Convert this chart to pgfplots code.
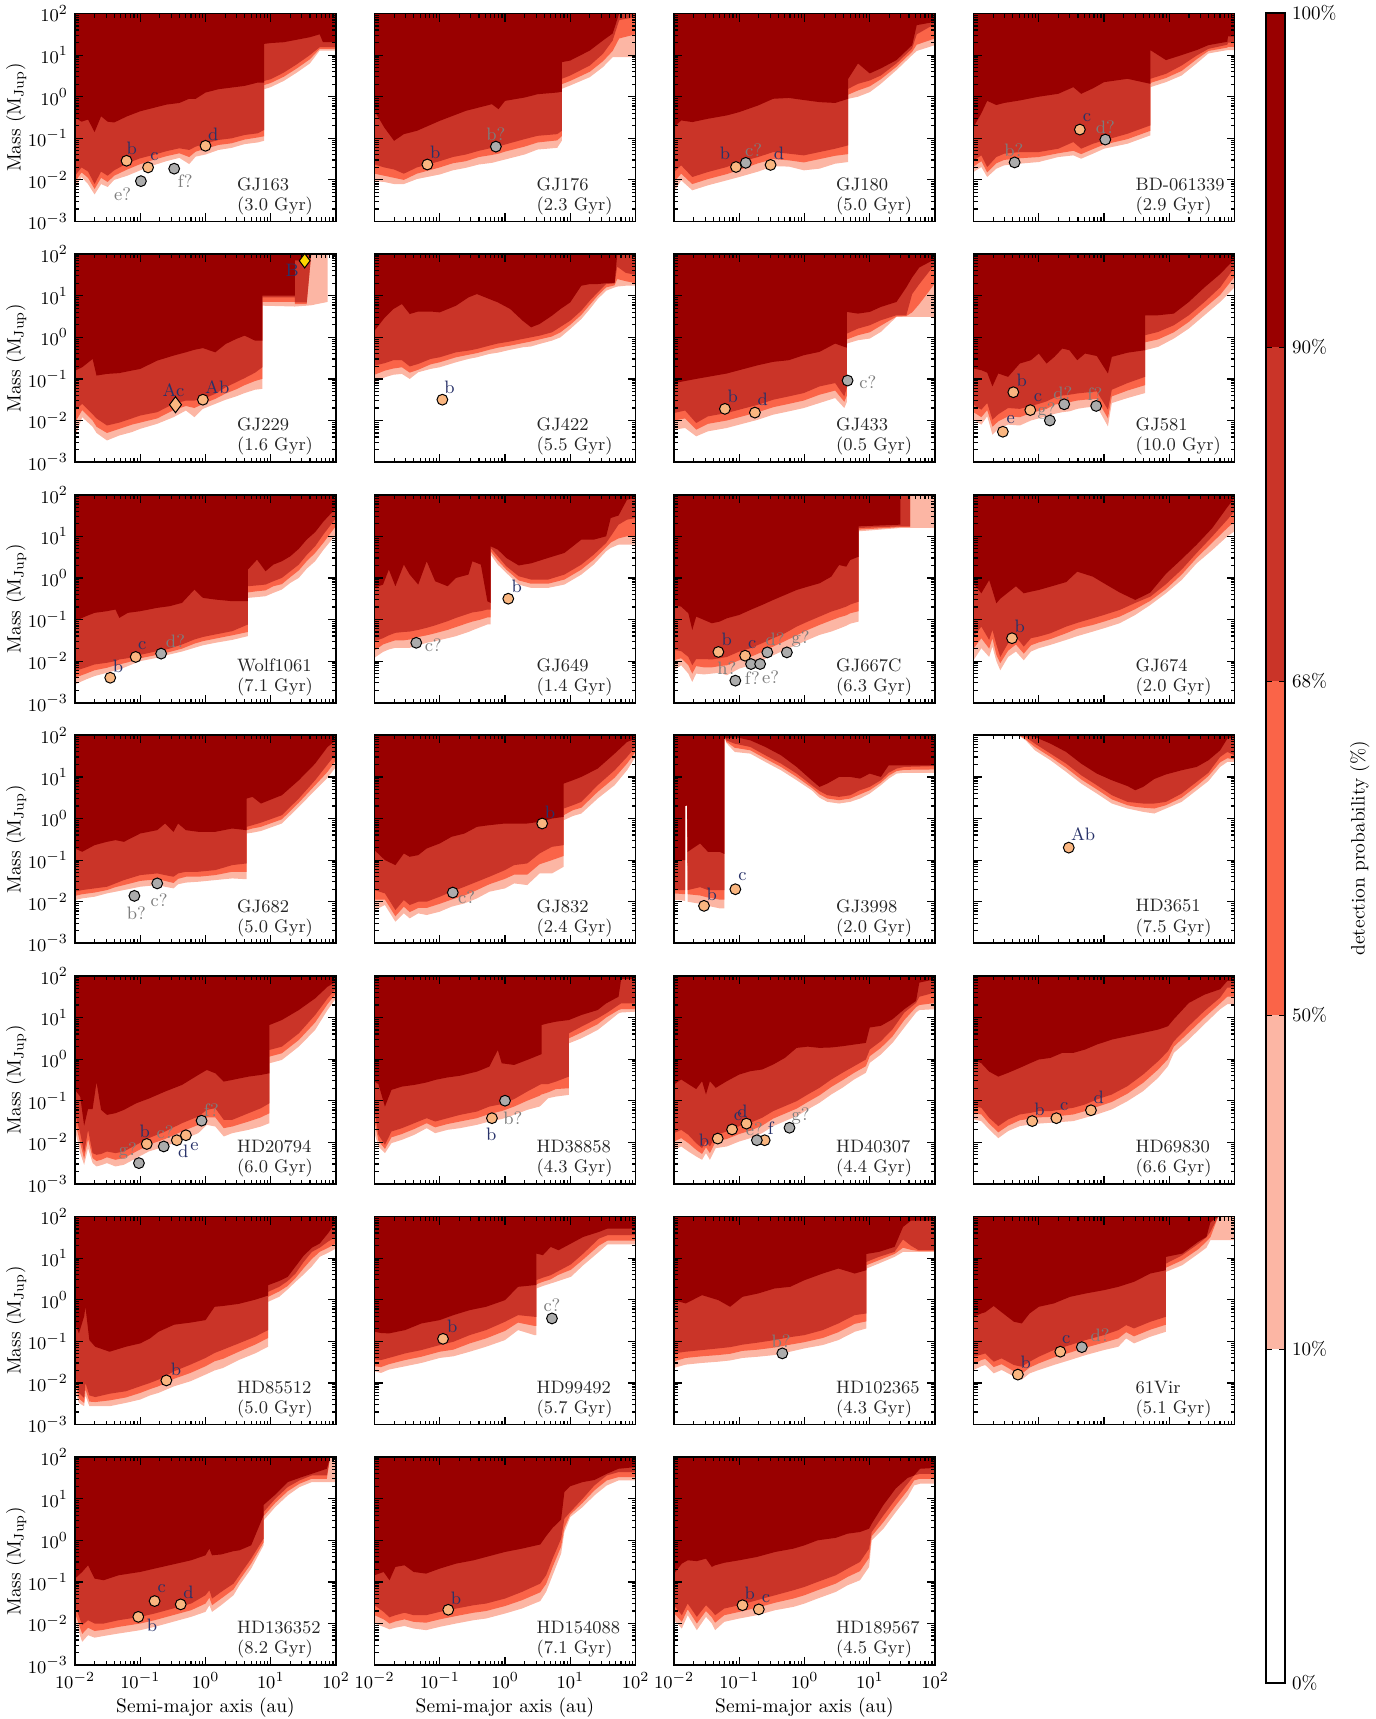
\documentclass[border=0pt]{standalone}
\usepackage{pgfplots}
\usepackage{pgfplotstable}
\pgfplotsset{compat=1.18}
\definecolor{cA}{RGB}{252,182,164}
\definecolor{cB}{RGB}{250,100,72}
\definecolor{cC}{RGB}{202,52,40}
\definecolor{cD}{RGB}{153,0,0}
\definecolor{orM}{RGB}{250,182,128}
\definecolor{grM}{RGB}{172,172,172}
\definecolor{navy}{RGB}{40,50,105}
\definecolor{gl}{RGB}{125,125,125}

% columns: x = log10(a/au); a = 90% edge; b = 68% edge; c = 50% edge; d = 10% edge (log10 M/MJup)
\pgfplotstableread{
x a b c d
-2.0 -0.50 -1.90 -2.05 -2.20
-1.9 -0.60 -1.70 -1.82 -1.93
-1.8 -0.55 -1.80 -1.95 -2.10
-1.7 -0.85 -2.10 -2.22 -2.35
-1.6 -0.47 -1.80 -1.95 -2.10
-1.5 -0.60 -1.90 -2.05 -2.17
-1.4 -0.62 -1.77 -1.90 -2.00
-1.2 -0.47 -1.60 -1.75 -1.90
-1.0 -0.35 -1.48 -1.62 -1.77
-0.8 -0.27 -1.40 -1.52 -1.65
-0.6 -0.19 -1.31 -1.43 -1.55
-0.4 -0.15 -1.24 -1.36 -1.47
-0.25 -0.05 -1.28 -1.45 -1.62
-0.15 -0.05 -1.20 -1.32 -1.44
0.0 0.10 -1.12 -1.25 -1.39
0.2 0.18 -1.04 -1.16 -1.28
0.4 0.22 -1.00 -1.12 -1.23
0.6 0.26 -0.92 -1.03 -1.14
0.8 0.34 -0.88 -0.98 -1.10
0.9 0.34 -0.80 -0.95 -1.06
0.9 1.27 0.38 0.28 0.18
1.0 1.29 0.42 0.33 0.23
1.2 1.31 0.58 0.48 0.38
1.4 1.37 0.78 0.68 0.58
1.6 1.43 1.00 0.90 0.80
1.75 1.50 1.19 1.15 1.11
1.8 1.31 1.19 1.15 1.11
2.0 1.31 1.19 1.15 1.11
}\dA
\pgfplotstableread{
x a b c d
-2.0 -0.34 -1.63 -1.85 -2.03
-1.85 -0.74 -1.70 -1.90 -2.05
-1.7 -1.06 -1.75 -1.95 -2.10
-1.55 -0.90 -1.85 -2.00 -2.10
-1.35 -0.82 -1.70 -1.85 -1.98
-1.0 -0.58 -1.55 -1.70 -1.87
-0.8 -0.46 -1.45 -1.60 -1.77
-0.6 -0.34 -1.39 -1.55 -1.71
-0.4 -0.26 -1.30 -1.45 -1.63
-0.2 -0.18 -1.23 -1.40 -1.59
-0.1 -0.30 -1.20 -1.37 -1.55
0.0 -0.10 -1.15 -1.32 -1.51
0.3 -0.02 -1.02 -1.20 -1.39
0.5 0.06 -0.94 -1.10 -1.27
0.8 0.10 -0.90 -1.05 -1.23
0.87 0.12 -0.82 -0.95 -1.06
0.87 0.83 0.43 0.30 0.19
1.0 0.87 0.51 0.38 0.27
1.3 1.11 0.75 0.60 0.47
1.5 1.35 1.03 0.85 0.71
1.65 1.52 1.35 1.10 0.95
1.75 2.00 1.84 1.40 0.95
2.0 2.00 1.92 1.50 0.95
}\dB
\pgfplotstableread{
x a b c d
-2.0 -0.73 -1.81 -2.05 -2.29
-1.89 -0.57 -1.65 -1.85 -2.01
-1.72 -0.61 -1.93 -2.10 -2.25
-1.48 -0.53 -1.81 -1.98 -2.13
-1.19 -0.45 -1.69 -1.86 -2.01
-1.0 -0.37 -1.57 -1.76 -1.93
-0.71 -0.21 -1.45 -1.60 -1.80
-0.48 -0.05 -1.33 -1.50 -1.67
-0.24 -0.03 -1.37 -1.53 -1.68
-0.01 -0.08 -1.41 -1.58 -1.77
0.23 -0.13 -1.33 -1.50 -1.73
0.47 -0.15 -1.25 -1.42 -1.61
0.67 -0.05 -1.17 -1.38 -1.57
0.67 0.43 0.19 0.05 -0.05
0.82 0.80 0.31 0.15 0.00
1.0 0.56 0.39 0.25 0.11
1.17 0.68 0.51 0.42 0.31
1.41 0.88 0.80 0.72 0.64
1.65 1.24 1.16 1.08 1.00
1.72 1.72 1.50 1.25 1.10
2.0 1.80 1.75 1.40 1.24
}\dC
\pgfplotstableread{
x a b c d
-2.0 -0.73 -1.53 -1.68 -1.81
-1.88 -0.40 -1.41 -1.55 -1.69
-1.79 -0.10 -1.69 -1.82 -1.93
-1.65 -0.20 -1.45 -1.60 -1.73
-1.53 -0.15 -1.37 -1.52 -1.65
-1.29 -0.09 -1.33 -1.48 -1.61
-1.0 0.00 -1.33 -1.45 -1.57
-0.7 0.07 -1.25 -1.36 -1.45
-0.47 0.23 -1.09 -1.30 -1.41
-0.35 0.07 -1.25 -1.38 -1.49
-0.17 0.20 -1.13 -1.26 -1.37
0.0 0.35 -1.05 -1.15 -1.25
0.36 0.43 -0.89 -1.02 -1.13
0.71 0.31 -0.69 -0.82 -0.93
0.71 1.12 0.43 0.33 0.23
0.95 0.88 0.55 0.45 0.35
1.19 1.00 0.75 0.62 0.51
1.42 1.12 0.99 0.90 0.80
1.6 1.24 1.15 1.10 1.04
1.89 1.32 1.25 1.18 1.12
1.9 1.45 1.30 1.20 1.12
2.0 1.45 1.30 1.20 1.12
}\dD
\pgfplotstableread{
x a b c d
-2.0 -0.80 -1.76 -2.05 -2.40
-1.89 -0.72 -1.60 -1.75 -1.92
-1.73 -0.52 -1.85 -2.00 -2.15
-1.67 -0.92 -1.95 -2.15 -2.30
-1.51 -0.88 -2.12 -2.30 -2.48
-1.32 -0.86 -2.05 -2.20 -2.36
-1.13 -0.80 -1.95 -2.10 -2.28
-1.0 -0.76 -1.88 -2.05 -2.20
-0.74 -0.56 -1.80 -1.95 -2.08
-0.49 -0.44 -1.60 -1.75 -1.92
-0.3 -0.36 -1.52 -1.65 -1.76
-0.17 -0.30 -1.52 -1.70 -1.92
-0.04 -0.26 -1.48 -1.60 -1.72
0.15 -0.36 -1.36 -1.48 -1.60
0.31 -0.16 -1.20 -1.35 -1.50
0.47 -0.04 -1.08 -1.25 -1.42
0.6 0.04 -0.98 -1.15 -1.34
0.76 -0.08 -0.85 -1.05 -1.26
0.87 -0.08 -0.72 -1.00 -1.24
0.87 1.00 0.96 0.85 0.76
1.37 1.00 0.96 0.85 0.74
1.37 1.85 0.84 0.80 0.74
1.55 1.85 0.84 0.80 0.76
1.55 2.00 0.82 0.79 0.76
1.62 2.00 2.00 2.00 0.77
1.87 2.00 2.00 2.00 0.85
1.87 2.00 2.00 2.00 2.00
2.0 2.00 2.00 2.00 2.00
}\dE
\pgfplotstableread{
x a b c d
-2.0 0.16 -0.68 -0.90 -1.08
-1.84 0.48 -0.62 -0.80 -0.96
-1.71 0.68 -0.55 -0.75 -0.90
-1.58 0.80 -0.55 -0.72 -0.88
-1.46 0.56 -0.70 -0.85 -1.00
-1.33 0.62 -0.64 -0.78 -0.84
-1.14 0.62 -0.52 -0.65 -0.76
-1.0 0.60 -0.48 -0.60 -0.72
-0.75 0.76 -0.36 -0.48 -0.60
-0.56 0.96 -0.32 -0.42 -0.52
-0.43 1.04 -0.28 -0.38 -0.48
-0.24 0.92 -0.20 -0.30 -0.40
-0.11 0.84 -0.15 -0.25 -0.37
0.08 0.68 -0.10 -0.20 -0.30
0.27 0.40 -0.04 -0.14 -0.24
0.4 0.24 0.00 -0.10 -0.22
0.53 0.32 0.04 -0.05 -0.16
0.72 0.52 0.12 0.02 -0.08
0.85 0.68 0.25 0.12 0.00
1.0 0.84 0.40 0.30 0.20
1.17 1.24 0.64 0.54 0.44
1.3 1.28 0.88 0.78 0.68
1.42 1.28 1.08 1.00 0.92
1.55 1.30 1.28 1.20 1.12
1.68 1.30 1.30 1.25 1.20
1.72 2.00 1.70 1.40 1.22
1.85 2.00 1.55 1.35 1.24
2.0 2.00 1.50 1.30 1.24
}\dF
\pgfplotstableread{
x a b c d
-2.0 -1.10 -1.82 -2.00 -2.22
-1.83 -1.05 -1.76 -1.95 -2.18
-1.66 -1.00 -2.06 -2.22 -2.38
-1.48 -0.95 -1.90 -2.08 -2.26
-1.19 -0.87 -1.82 -2.00 -2.18
-1.0 -0.79 -1.74 -1.92 -2.10
-0.71 -0.67 -1.62 -1.80 -1.98
-0.48 -0.59 -1.50 -1.68 -1.86
-0.24 -0.55 -1.42 -1.60 -1.78
-0.01 -0.43 -1.34 -1.52 -1.70
0.23 -0.35 -1.18 -1.38 -1.58
0.47 -0.15 -1.10 -1.28 -1.46
0.61 -0.23 -1.42 -1.55 -1.70
0.65 -0.25 -1.20 -1.40 -1.55
0.65 0.61 0.09 -0.05 -0.15
0.82 0.57 0.21 0.05 -0.07
1.0 0.61 0.29 0.12 -0.03
1.17 0.73 0.41 0.28 0.13
1.41 0.85 0.53 0.50 0.49
1.56 1.20 0.53 0.51 0.49
1.65 1.44 1.04 0.60 0.49
1.76 1.68 1.28 0.80 0.49
2.0 1.88 1.76 1.30 0.49
}\dG
\pgfplotstableread{
x a b c d
-2.0 -0.75 -1.62 -1.80 -1.98
-1.88 -0.79 -1.74 -1.92 -2.10
-1.79 -0.85 -1.58 -1.75 -1.90
-1.71 -1.18 -1.98 -2.15 -2.34
-1.62 -0.87 -1.85 -2.02 -2.20
-1.47 -0.95 -1.70 -1.90 -2.10
-1.29 -0.63 -1.72 -1.92 -2.12
-1.12 -0.55 -1.65 -1.82 -2.00
-1.0 -0.39 -1.60 -1.77 -1.95
-0.88 -0.63 -1.54 -1.72 -1.90
-0.76 -0.47 -1.45 -1.62 -1.84
-0.64 -0.27 -1.40 -1.58 -1.80
-0.53 -0.31 -1.38 -1.56 -1.78
-0.41 -0.55 -1.35 -1.52 -1.72
-0.29 -0.39 -1.33 -1.50 -1.69
-0.11 -0.45 -1.30 -1.48 -1.66
0.06 -0.87 -1.74 -1.95 -2.14
0.12 -0.47 -1.26 -1.42 -1.58
0.36 -0.37 -1.10 -1.28 -1.46
0.63 -0.31 -0.95 -1.15 -1.34
0.63 0.53 0.05 -0.12 -0.31
0.83 0.53 0.13 -0.05 -0.23
1.07 0.57 0.29 0.12 -0.03
1.3 0.85 0.53 0.37 0.21
1.54 1.20 0.85 0.70 0.53
1.78 1.52 1.20 1.02 0.85
2.0 1.88 1.68 1.45 1.20
}\dH
\pgfplotstableread{
x a b c d
-2.0 -1.04 -2.24 -2.40 -2.56
-1.83 -0.92 -2.15 -2.30 -2.44
-1.7 -0.84 -2.08 -2.22 -2.36
-1.51 -0.80 -2.04 -2.16 -2.28
-1.38 -0.76 -2.00 -2.10 -2.22
-1.32 -0.96 -1.96 -2.08 -2.20
-1.19 -0.84 -1.93 -2.03 -2.12
-1.0 -0.80 -1.85 -1.93 -2.00
-0.74 -0.72 -1.76 -1.85 -1.92
-0.55 -0.68 -1.70 -1.78 -1.84
-0.36 -0.60 -1.60 -1.70 -1.77
-0.17 -0.28 -1.48 -1.58 -1.68
-0.04 -0.48 -1.42 -1.52 -1.62
0.15 -0.52 -1.36 -1.46 -1.56
0.41 -0.56 -1.28 -1.38 -1.49
0.65 -0.56 -1.12 -1.30 -1.40
0.65 0.20 -0.20 -0.35 -0.48
0.79 0.44 -0.18 -0.32 -0.46
0.92 0.16 -0.16 -0.30 -0.44
1.04 0.32 -0.08 -0.20 -0.36
1.17 0.40 0.00 -0.15 -0.28
1.3 0.52 0.16 0.02 -0.12
1.43 0.70 0.32 0.18 0.00
1.55 0.92 0.55 0.40 0.22
1.68 1.10 0.76 0.60 0.40
1.81 1.36 1.05 0.85 0.68
2.0 1.68 1.44 1.25 1.04
}\dI
\pgfplotstableread{
x a b c d
-2.0 -0.24 -1.52 -1.75 -1.92
-1.87 -0.16 -1.45 -1.60 -1.78
-1.78 0.20 -1.38 -1.55 -1.72
-1.68 -0.20 -1.32 -1.50 -1.68
-1.55 0.32 -1.30 -1.50 -1.68
-1.46 0.08 -1.29 -1.48 -1.68
-1.33 -0.16 -1.25 -1.42 -1.62
-1.2 0.40 -1.20 -1.38 -1.56
-1.07 -0.08 -1.14 -1.33 -1.52
-0.88 -0.20 -1.04 -1.25 -1.45
-0.75 0.00 -0.96 -1.18 -1.40
-0.56 0.08 -0.86 -1.08 -1.30
-0.5 0.40 -0.83 -1.05 -1.26
-0.37 0.32 -0.80 -1.00 -1.18
-0.27 -0.56 -0.76 -0.95 -1.12
-0.22 -0.60 -0.76 -0.95 -1.12
-0.22 0.76 0.72 0.64 0.56
-0.11 0.68 0.52 0.42 0.32
0.02 0.48 0.28 0.20 0.12
0.21 0.30 0.04 -0.06 -0.16
0.4 0.35 -0.04 -0.14 -0.24
0.66 0.48 -0.04 -0.14 -0.24
0.91 0.60 0.08 -0.04 -0.16
1.17 0.92 0.32 0.20 0.08
1.36 0.92 0.56 0.44 0.32
1.55 1.00 0.84 0.74 0.64
1.62 1.44 1.00 0.85 0.72
1.74 1.50 1.28 0.95 0.80
1.87 1.88 1.40 1.00 0.80
2.0 1.92 1.44 1.00 0.80
}\dJ
\pgfplotstableread{
x a b c d
-2.0 -0.65 -1.73 -1.98 -2.22
-1.89 -0.69 -1.76 -1.93 -2.10
-1.78 -0.85 -1.90 -2.10 -2.30
-1.72 -1.25 -2.10 -2.30 -2.50
-1.66 -0.93 -1.95 -2.12 -2.30
-1.54 -1.01 -1.95 -2.15 -2.32
-1.42 -1.09 -1.96 -2.15 -2.30
-1.3 -1.05 -1.93 -2.12 -2.28
-1.19 -0.97 -1.90 -2.10 -2.34
-1.0 -0.89 -1.77 -1.98 -2.18
-0.83 -0.77 -1.69 -1.90 -2.10
-0.65 -0.65 -1.57 -1.78 -1.98
-0.48 -0.53 -1.45 -1.65 -1.86
-0.3 -0.41 -1.33 -1.52 -1.73
-0.12 -0.29 -1.17 -1.38 -1.61
0.05 -0.21 -1.05 -1.25 -1.49
0.23 -0.13 -0.93 -1.13 -1.37
0.41 0.03 -0.81 -1.02 -1.29
0.53 0.31 -0.75 -0.95 -1.22
0.64 0.27 -0.69 -0.90 -1.15
0.7 0.43 -0.64 -0.85 -1.10
0.83 0.51 -0.57 -0.80 -1.05
0.83 1.24 1.20 1.16 1.12
1.47 1.28 1.24 1.22 1.20
1.47 2.00 1.24 1.22 1.20
1.62 2.00 1.24 1.22 1.20
1.62 2.00 2.00 2.00 1.20
2.0 2.00 2.00 2.00 1.20
}\dK
\pgfplotstableread{
x a b c d
-2.0 -0.13 -1.41 -1.70 -1.98
-1.88 -0.37 -1.17 -1.45 -1.69
-1.76 -0.05 -1.49 -1.70 -1.90
-1.71 -0.30 -1.25 -1.45 -1.65
-1.65 -0.61 -1.60 -1.85 -2.00
-1.59 -0.50 -1.90 -2.05 -2.22
-1.47 -0.35 -1.57 -1.75 -1.90
-1.35 -0.20 -1.41 -1.60 -1.77
-1.23 -0.37 -1.65 -1.82 -1.98
-1.12 -0.33 -1.45 -1.62 -1.77
-1.0 -0.29 -1.41 -1.55 -1.69
-0.82 -0.21 -1.33 -1.47 -1.61
-0.58 -0.10 -1.17 -1.33 -1.49
-0.41 0.15 -1.08 -1.22 -1.40
-0.17 0.03 -0.97 -1.13 -1.29
0.0 -0.13 -0.89 -1.05 -1.21
0.24 -0.35 -0.77 -0.93 -1.09
0.48 -0.53 -0.60 -0.75 -0.89
0.71 -0.35 -0.45 -0.55 -0.65
0.95 0.10 -0.15 -0.27 -0.37
1.19 0.45 0.20 0.08 -0.05
1.42 0.80 0.60 0.48 0.35
1.66 1.20 1.00 0.85 0.67
1.89 1.70 1.40 1.20 1.00
2.0 1.92 1.60 1.35 1.12
}\dL
\pgfplotstableread{
x a b c d
-2.0 -0.72 -1.76 -1.86 -1.96
-1.89 -0.80 -1.72 -1.82 -1.92
-1.7 -0.64 -1.68 -1.78 -1.88
-1.51 -0.56 -1.64 -1.72 -1.80
-1.38 -0.52 -1.56 -1.65 -1.76
-1.25 -0.56 -1.48 -1.60 -1.72
-1.0 -0.36 -1.36 -1.50 -1.64
-0.74 -0.28 -1.32 -1.46 -1.60
-0.62 -0.12 -1.36 -1.50 -1.64
-0.49 -0.32 -1.40 -1.55 -1.68
-0.42 -0.12 -1.32 -1.45 -1.58
-0.3 -0.28 -1.28 -1.40 -1.54
-0.11 -0.32 -1.28 -1.40 -1.52
0.15 -0.32 -1.24 -1.36 -1.48
0.41 -0.24 -1.12 -1.28 -1.44
0.63 -0.28 -1.08 -1.28 -1.46
0.63 0.48 -0.20 -0.28 -0.36
0.72 0.52 -0.16 -0.24 -0.34
0.85 0.36 -0.10 -0.20 -0.30
1.17 0.56 0.08 -0.02 -0.12
1.43 0.92 0.48 0.38 0.28
1.68 1.32 0.92 0.80 0.68
1.87 1.72 1.30 1.12 0.98
2.0 1.88 1.56 1.40 1.24
}\dM
\pgfplotstableread{
x a b c d
-2.0 -0.76 -1.72 -1.95 -2.20
-1.84 -1.00 -1.80 -1.95 -2.08
-1.68 -1.12 -2.20 -2.35 -2.48
-1.55 -0.84 -1.96 -2.12 -2.28
-1.46 -0.92 -2.08 -2.25 -2.40
-1.33 -0.88 -2.00 -2.15 -2.28
-1.2 -0.72 -2.00 -2.15 -2.32
-1.0 -0.60 -1.88 -2.05 -2.24
-0.82 -0.44 -1.76 -1.95 -2.12
-0.62 -0.36 -1.64 -1.85 -2.04
-0.43 -0.20 -1.52 -1.72 -1.92
-0.24 -0.16 -1.40 -1.58 -1.76
0.0 -0.12 -1.24 -1.45 -1.68
0.14 -0.12 -1.12 -1.35 -1.56
0.34 -0.12 -1.08 -1.35 -1.60
0.53 -0.08 -0.84 -1.10 -1.32
0.72 0.00 -0.68 -1.00 -1.32
0.9 0.04 -0.64 -0.90 -1.16
0.9 0.84 0.24 0.08 -0.04
1.04 0.92 0.32 0.20 0.06
1.17 1.00 0.40 0.26 0.12
1.42 1.20 0.80 0.64 0.48
1.68 1.56 1.16 0.98 0.80
1.87 1.84 1.48 1.32 1.16
2.0 1.92 1.72 1.60 1.48
}\dN
\pgfplotstableread{
x a b c d
-2.0 -1.00 -1.72 -1.80 -1.95
-1.83 -1.00 -1.72 -1.82 -1.98
-1.83 0.30 0.30 0.30 0.30
-1.80 0.32 0.32 0.32 0.32
-1.79 -0.80 -1.72 -1.82 -2.00
-1.6 -0.60 -1.65 -1.85 -2.05
-1.48 -0.80 -1.72 -1.90 -2.10
-1.3 -0.80 -1.72 -1.95 -2.16
-1.23 -0.85 -1.72 -1.95 -2.16
-1.23 2.00 2.00 2.00 2.00
-1.20 1.92 1.88 1.85 1.82
-1.07 1.96 1.80 1.70 1.60
-0.83 1.88 1.72 1.64 1.56
-0.6 1.72 1.52 1.44 1.36
-0.36 1.52 1.32 1.24 1.16
-0.12 1.24 1.08 1.00 0.92
0.11 0.92 0.80 0.74 0.68
0.23 0.76 0.66 0.58 0.50
0.35 0.84 0.56 0.48 0.40
0.53 1.00 0.52 0.44 0.36
0.7 1.00 0.56 0.48 0.40
0.85 0.96 0.68 0.58 0.48
1.0 1.08 0.76 0.68 0.60
1.17 1.00 0.92 0.86 0.80
1.29 1.28 1.10 1.03 0.96
1.41 1.28 1.20 1.14 1.08
1.53 1.28 1.24 1.17 1.10
2.0 1.28 1.26 1.18 1.10
}\dO
\pgfplotstableread{
x a b c d
-2.0 2.00 2.00 2.00 2.00
-1.3 2.00 2.00 2.00 1.98
-1.2 2.00 1.96 1.90 1.88
-1.06 1.96 1.80 1.72 1.64
-0.82 1.80 1.56 1.48 1.40
-0.58 1.60 1.32 1.22 1.12
-0.35 1.32 1.04 0.94 0.84
-0.11 1.08 0.80 0.70 0.60
0.12 0.92 0.56 0.46 0.36
0.36 0.78 0.40 0.32 0.24
0.48 0.68 0.38 0.28 0.20
0.6 0.76 0.36 0.26 0.16
0.77 0.95 0.36 0.24 0.12
0.95 1.06 0.40 0.32 0.24
1.19 1.16 0.60 0.50 0.40
1.42 1.24 0.88 0.78 0.68
1.6 1.40 1.10 1.02 0.90
1.78 1.64 1.48 1.35 1.24
1.89 1.92 1.60 1.45 1.36
2.0 1.95 1.52 1.42 1.36
}\dP
\pgfplotstableread{
x a b c d
-2.0 -0.74 -1.30 -1.50 -1.70
-1.92 -0.90 -1.78 -2.02 -2.26
-1.86 -1.60 -2.26 -2.40 -2.54
-1.8 -1.20 -1.70 -1.92 -2.14
-1.73 -1.20 -2.26 -2.38 -2.50
-1.67 -0.55 -2.30 -2.45 -2.58
-1.6 -1.22 -2.28 -2.42 -2.55
-1.51 -1.34 -2.22 -2.36 -2.50
-1.38 -1.30 -2.26 -2.42 -2.58
-1.25 -1.22 -2.22 -2.38 -2.54
-1.06 -1.06 -2.06 -2.22 -2.38
-0.87 -0.95 -1.90 -2.06 -2.22
-0.62 -0.78 -1.74 -1.92 -2.10
-0.36 -0.62 -1.54 -1.74 -1.94
-0.11 -0.38 -1.38 -1.58 -1.78
0.02 -0.26 -1.22 -1.40 -1.58
0.15 -0.34 -1.18 -1.40 -1.62
0.28 -0.54 -1.46 -1.66 -1.86
0.41 -0.50 -1.46 -1.62 -1.78
0.66 -0.42 -1.30 -1.50 -1.70
0.85 -0.38 -1.18 -1.40 -1.62
0.98 -0.34 -1.06 -1.30 -1.54
0.98 0.82 0.22 0.06 -0.10
1.17 0.94 0.30 0.14 -0.02
1.43 1.18 0.62 0.46 0.30
1.68 1.46 1.06 0.88 0.70
1.87 1.74 1.46 1.32 1.18
2.0 1.86 1.70 1.58 1.46
}\dQ
\pgfplotstableread{
x a b c d
-2.0 -0.54 -1.22 -1.50 -1.78
-1.94 -0.60 -1.82 -1.96 -2.10
-1.84 -1.14 -2.06 -2.16 -2.26
-1.74 -0.74 -1.74 -1.88 -2.02
-1.58 -0.66 -1.66 -1.80 -1.94
-1.39 -0.62 -1.54 -1.68 -1.82
-1.2 -0.56 -1.42 -1.54 -1.66
-1.07 -0.50 -1.50 -1.64 -1.78
-0.88 -0.44 -1.42 -1.56 -1.70
-0.69 -0.40 -1.34 -1.50 -1.66
-0.43 -0.30 -1.26 -1.42 -1.58
-0.24 -0.18 -1.14 -1.32 -1.50
-0.11 0.22 -1.10 -1.27 -1.46
-0.05 -0.10 -1.08 -1.25 -1.44
0.14 -0.14 -0.96 -1.14 -1.34
0.34 -0.02 -0.78 -1.00 -1.22
0.53 0.10 -0.62 -0.88 -1.14
0.56 0.12 -0.60 -0.85 -1.10
0.56 0.82 -0.60 -0.85 -1.10
0.66 0.86 -0.60 -0.80 -0.94
0.78 0.90 -0.54 -0.72 -0.90
0.98 0.94 -0.42 -0.70 -0.86
0.98 0.94 0.62 0.50 0.38
1.17 1.06 0.78 0.64 0.50
1.42 1.18 0.98 0.84 0.70
1.55 1.34 1.10 1.00 0.86
1.74 1.50 1.30 1.18 1.10
1.78 1.92 1.34 1.20 1.12
2.0 1.92 1.34 1.20 1.14
}\dR
\pgfplotstableread{
x a b c d
-2.0 -0.61 -1.78 -1.98 -2.18
-1.89 -0.49 -1.70 -1.90 -2.10
-1.78 -0.60 -1.82 -2.02 -2.22
-1.66 -0.72 -2.02 -2.18 -2.34
-1.57 -0.53 -2.14 -2.28 -2.42
-1.51 -0.85 -1.98 -2.12 -2.26
-1.45 -0.53 -2.10 -2.26 -2.42
-1.36 -0.69 -1.82 -1.98 -2.14
-1.19 -0.53 -1.74 -1.92 -2.10
-1.0 -0.37 -1.61 -1.80 -1.98
-0.83 -0.29 -1.53 -1.72 -1.90
-0.65 -0.25 -1.41 -1.60 -1.78
-0.48 -0.13 -1.25 -1.43 -1.61
-0.3 0.03 -1.13 -1.31 -1.49
-0.12 0.27 -1.01 -1.19 -1.37
0.05 0.30 -0.85 -1.03 -1.21
0.23 0.27 -0.69 -0.87 -1.05
0.41 0.28 -0.49 -0.67 -0.85
0.58 0.31 -0.33 -0.51 -0.69
0.76 0.35 -0.17 -0.33 -0.49
0.94 0.39 -0.01 -0.17 -0.33
1.0 0.76 0.23 0.07 -0.09
1.17 0.80 0.43 0.27 0.11
1.35 0.96 0.72 0.55 0.39
1.53 1.20 1.12 0.94 0.76
1.71 1.40 1.35 1.25 1.12
1.76 1.84 1.50 1.30 1.18
2.0 1.92 1.60 1.35 1.20
}\dS
\pgfplotstableread{
x a b c d
-2.0 -0.01 -1.13 -1.30 -1.45
-1.88 -0.10 -1.17 -1.33 -1.49
-1.76 -0.30 -1.41 -1.55 -1.69
-1.62 -0.42 -1.61 -1.76 -1.90
-1.47 -0.33 -1.45 -1.60 -1.73
-1.29 -0.21 -1.33 -1.47 -1.61
-1.12 -0.09 -1.29 -1.43 -1.57
-1.0 -0.01 -1.25 -1.40 -1.55
-0.82 0.03 -1.25 -1.39 -1.53
-0.64 0.15 -1.21 -1.36 -1.51
-0.47 0.15 -1.17 -1.33 -1.49
-0.29 0.23 -1.09 -1.25 -1.41
-0.11 0.35 -0.97 -1.15 -1.33
0.12 0.47 -0.85 -1.03 -1.21
0.36 0.55 -0.65 -0.83 -1.01
0.6 0.63 -0.37 -0.57 -0.77
0.83 0.71 -0.05 -0.25 -0.45
0.98 0.79 0.19 0.00 -0.17
1.07 0.96 0.43 0.30 0.15
1.3 1.35 0.80 0.64 0.47
1.54 1.55 1.16 1.00 0.84
1.78 1.68 1.48 1.34 1.20
1.89 1.88 1.72 1.50 1.32
2.0 1.88 1.72 1.50 1.32
}\dT
\pgfplotstableread{
x a b c d
-2.0 -0.57 -1.76 -2.00 -2.20
-1.94 -0.81 -2.24 -2.38 -2.48
-1.86 -0.40 -2.36 -2.48 -2.56
-1.84 -0.17 -2.00 -2.15 -2.30
-1.78 -0.97 -2.30 -2.45 -2.56
-1.69 -1.13 -2.34 -2.46 -2.56
-1.47 -1.25 -2.26 -2.42 -2.56
-1.22 -1.13 -2.20 -2.35 -2.48
-1.0 -1.05 -2.08 -2.24 -2.40
-0.85 -0.93 -2.00 -2.15 -2.30
-0.72 -0.77 -1.92 -2.08 -2.24
-0.48 -0.60 -1.72 -1.90 -2.08
-0.23 -0.55 -1.56 -1.76 -1.96
0.0 -0.49 -1.40 -1.60 -1.80
0.14 -0.17 -1.28 -1.48 -1.70
0.27 -0.15 -1.20 -1.42 -1.64
0.51 -0.10 -1.05 -1.25 -1.45
0.76 0.00 -0.89 -1.08 -1.29
0.96 0.10 -0.73 -0.92 -1.13
0.96 0.35 0.19 0.07 -0.05
1.13 0.45 0.31 0.20 0.07
1.26 0.55 0.45 0.33 0.25
1.38 0.80 0.63 0.52 0.43
1.5 1.05 0.90 0.75 0.60
1.63 1.25 1.15 0.98 0.80
1.75 1.35 1.25 1.15 1.03
1.88 1.60 1.40 1.25 1.13
2.0 1.86 1.51 1.35 1.23
}\dU
\pgfplotstableread{
x a b c d
-2.0 -0.77 -1.44 -1.60 -1.72
-1.9 -0.80 -1.45 -1.62 -1.76
-1.78 -0.81 -1.40 -1.55 -1.68
-1.53 -0.73 -1.29 -1.45 -1.60
-1.28 -0.57 -1.21 -1.37 -1.52
-1.0 -0.49 -1.09 -1.25 -1.40
-0.79 -0.37 -1.01 -1.20 -1.36
-0.54 -0.25 -0.85 -1.05 -1.25
-0.29 -0.17 -0.73 -0.93 -1.13
0.0 -0.01 -0.53 -0.75 -0.97
0.2 0.31 -0.37 -0.55 -0.73
0.45 0.35 -0.41 -0.63 -0.85
0.48 0.35 -0.41 -0.63 -0.85
0.48 1.11 0.47 0.37 0.27
0.58 1.07 0.53 0.43 0.33
0.7 1.27 0.59 0.49 0.39
0.82 1.19 0.69 0.60 0.45
1.01 1.35 0.85 0.72 0.55
1.2 1.51 1.11 0.97 0.83
1.44 1.63 1.47 1.30 1.15
1.57 1.71 1.55 1.42 1.33
2.0 1.71 1.55 1.42 1.33
}\dV
\pgfplotstableread{
x a b c d
-2.0 -0.01 -1.29 -1.48 -1.64
-1.82 -0.09 -1.25 -1.40 -1.56
-1.57 0.11 -1.21 -1.36 -1.52
-1.32 -0.01 -1.17 -1.33 -1.49
-1.14 -0.17 -1.14 -1.30 -1.46
-0.95 0.07 -1.08 -1.23 -1.40
-0.71 0.15 -1.03 -1.20 -1.37
-0.46 0.27 -0.97 -1.15 -1.33
-0.22 0.31 -0.90 -1.08 -1.25
0.0 0.47 -0.85 -1.02 -1.17
0.28 0.63 -0.73 -0.92 -1.09
0.52 0.75 -0.57 -0.78 -0.97
0.77 0.63 -0.37 -0.58 -0.77
0.95 0.71 -0.33 -0.52 -0.69
0.95 1.10 0.91 0.83 0.75
1.14 1.15 1.03 0.95 0.87
1.38 1.27 1.15 1.10 1.03
1.51 1.75 1.45 1.25 1.15
1.63 1.90 1.30 1.20 1.15
1.75 1.90 1.19 1.17 1.15
2.0 1.90 1.19 1.17 1.15
}\dW
\pgfplotstableread{
x a b c d
-2.0 -0.41 -1.37 -1.55 -1.69
-1.88 -0.33 -1.32 -1.45 -1.60
-1.82 -0.30 -1.29 -1.42 -1.57
-1.69 -0.15 -1.49 -1.62 -1.77
-1.57 -0.30 -1.41 -1.55 -1.69
-1.38 -0.53 -1.57 -1.72 -1.84
-1.26 -0.57 -1.61 -1.78 -1.92
-1.14 -0.33 -1.49 -1.63 -1.77
-1.0 -0.17 -1.37 -1.53 -1.69
-0.77 -0.09 -1.21 -1.39 -1.57
-0.52 0.07 -1.09 -1.27 -1.45
-0.28 0.15 -0.97 -1.15 -1.33
0.0 0.23 -0.85 -1.03 -1.21
0.22 0.31 -0.73 -0.93 -1.13
0.34 0.37 -0.61 -0.78 -0.93
0.46 0.43 -0.69 -0.88 -1.05
0.71 0.63 -0.53 -0.72 -0.89
0.95 0.71 -0.41 -0.60 -0.77
0.95 1.03 0.87 0.77 0.67
1.2 1.11 1.07 0.95 0.83
1.45 1.40 1.35 1.22 1.11
1.57 1.51 1.50 1.40 1.25
1.63 1.86 1.63 1.50 1.43
1.75 2.00 2.00 2.00 1.43
2.0 2.00 2.00 2.00 1.43
}\dX
\pgfplotstableread{
x a b c d
-2.0 -0.92 -1.56 -1.75 -1.92
-1.89 -0.76 -2.04 -2.25 -2.44
-1.8 -0.60 -1.92 -2.10 -2.28
-1.7 -0.92 -2.00 -2.18 -2.34
-1.56 -0.96 -2.00 -2.15 -2.30
-1.33 -0.84 -1.92 -2.08 -2.24
-1.0 -0.76 -1.84 -2.00 -2.16
-0.78 -0.68 -1.76 -1.92 -2.08
-0.5 -0.58 -1.64 -1.80 -1.96
-0.22 -0.48 -1.52 -1.68 -1.84
0.0 -0.36 -1.32 -1.52 -1.72
0.06 -0.20 -1.20 -1.38 -1.56
0.1 -0.36 -1.40 -1.56 -1.72
0.24 -0.34 -1.24 -1.40 -1.56
0.43 -0.26 -1.04 -1.18 -1.32
0.52 -0.24 -0.84 -0.96 -1.08
0.7 -0.12 -0.44 -0.56 -0.68
0.89 0.60 0.04 -0.05 -0.12
0.89 0.85 0.68 0.58 0.48
1.07 1.10 1.00 0.90 0.80
1.26 1.40 1.28 1.18 1.08
1.44 1.50 1.44 1.36 1.28
1.63 1.60 1.56 1.48 1.40
1.86 1.72 1.56 1.48 1.40
1.91 2.00 2.00 2.00 1.40
2.0 2.00 2.00 2.00 1.40
}\dY
\pgfplotstableread{
x a b c d
-2.0 -0.84 -1.56 -1.80 -2.00
-1.86 -0.76 -1.72 -1.90 -2.08
-1.77 -0.96 -1.85 -2.00 -2.14
-1.68 -0.64 -1.80 -1.95 -2.10
-1.54 -0.60 -1.74 -1.90 -2.06
-1.4 -0.76 -1.80 -1.96 -2.12
-1.21 -0.80 -1.80 -1.98 -2.16
-1.0 -0.68 -1.72 -1.90 -2.08
-0.75 -0.56 -1.64 -1.82 -2.00
-0.48 -0.48 -1.56 -1.74 -1.92
-0.29 -0.40 -1.52 -1.70 -1.88
0.0 -0.28 -1.40 -1.58 -1.76
0.26 -0.20 -1.24 -1.44 -1.64
0.54 -0.10 -1.04 -1.25 -1.46
0.63 0.10 -0.84 -1.05 -1.24
0.73 0.30 -0.44 -0.64 -0.84
0.86 0.50 0.04 -0.15 -0.32
0.91 1.16 0.52 0.30 0.20
1.0 1.30 0.68 0.62 0.56
1.19 1.40 1.00 0.90 0.80
1.37 1.45 1.32 1.20 1.08
1.56 1.60 1.56 1.44 1.32
1.74 1.72 1.64 1.52 1.44
2.0 1.76 1.64 1.52 1.44
}\dZ
\pgfplotstableread{
x a b c d
-2.0 -0.80 -1.56 -1.75 -1.92
-1.88 -0.56 -1.80 -1.96 -2.12
-1.79 -0.48 -1.52 -1.66 -1.80
-1.65 -0.50 -1.84 -2.00 -2.16
-1.51 -0.44 -1.56 -1.70 -1.84
-1.42 -0.64 -1.70 -1.85 -2.00
-1.37 -0.60 -1.80 -1.98 -2.16
-1.23 -0.54 -1.64 -1.80 -1.96
-1.0 -0.48 -1.56 -1.72 -1.88
-0.73 -0.40 -1.44 -1.62 -1.80
-0.45 -0.28 -1.32 -1.50 -1.68
-0.17 -0.20 -1.20 -1.40 -1.60
0.0 -0.12 -1.12 -1.32 -1.52
0.2 0.00 -1.00 -1.20 -1.40
0.48 0.06 -0.84 -1.04 -1.24
0.66 0.16 -0.68 -0.88 -1.08
0.85 0.20 -0.52 -0.74 -0.96
0.99 0.28 -0.20 -0.42 -0.64
1.03 0.40 0.20 0.10 0.00
1.21 0.85 0.60 0.44 0.28
1.4 1.25 1.00 0.84 0.68
1.58 1.50 1.36 1.20 1.04
1.68 1.56 1.56 1.44 1.32
1.77 1.72 1.60 1.48 1.36
2.0 1.74 1.60 1.48 1.36
}\dAA

\newcommand{\regions}[1]{%
\addplot[fill=cA,draw=none] table[x=x,y=d]{#1} -- (axis cs:2,2) -- (axis cs:-2,2) -- cycle;
\addplot[fill=cB,draw=none] table[x=x,y=c]{#1} -- (axis cs:2,2) -- (axis cs:-2,2) -- cycle;
\addplot[fill=cC,draw=none] table[x=x,y=b]{#1} -- (axis cs:2,2) -- (axis cs:-2,2) -- cycle;
\addplot[fill=cD,draw=none] table[x=x,y=a]{#1} -- (axis cs:2,2) -- (axis cs:-2,2) -- cycle;
}

\pgfplotsset{
  panel/.style={anchor=north west, width=130.5pt, height=104pt, scale only axis,
    xmin=-2, xmax=2, ymin=-3, ymax=2, axis on top,
    xtick={-2,-1,0,1,2}, ytick={-3,-2,-1,0,1,2},
    minor xtick={-1.69897,-1.52288,-1.39794,-1.30103,-1.22185,-1.15490,-1.09691,-1.04576,
      -0.69897,-0.52288,-0.39794,-0.30103,-0.22185,-0.15490,-0.09691,-0.04576,
      0.30103,0.47712,0.60206,0.69897,0.77815,0.84510,0.90309,0.95424,
      1.30103,1.47712,1.60206,1.69897,1.77815,1.84510,1.90309,1.95424},
    minor ytick={-2.69897,-2.52288,-2.39794,-2.30103,-2.22185,-2.15490,-2.09691,-2.04576,
      -1.69897,-1.52288,-1.39794,-1.30103,-1.22185,-1.15490,-1.09691,-1.04576,
      -0.69897,-0.52288,-0.39794,-0.30103,-0.22185,-0.15490,-0.09691,-0.04576,
      0.30103,0.47712,0.60206,0.69897,0.77815,0.84510,0.90309,0.95424,
      1.30103,1.47712,1.60206,1.69897,1.77815,1.84510,1.90309,1.95424},
    tick align=inside, major tick length=4pt, minor tick length=2pt,
    every tick/.style={black, line width=0.6pt},
    axis line style={line width=0.9pt},
    xticklabels={}, yticklabels={},
    tick label style={font=\fontsize{9.5}{11}\selectfont},
    label style={font=\fontsize{9.7}{11}\selectfont}},
  xlab/.style={xticklabels={$10^{-2}$,$10^{-1}$,$10^{0}$,$10^{1}$,$10^{2}$}, xlabel={Semi-major axis (au)}, xlabel shift=-2.5pt},
  ylab/.style={yticklabels={$10^{-3}$,$10^{-2}$,$10^{-1}$,$10^{0}$,$10^{1}$,$10^{2}$}, ylabel={Mass (M$_{\mathrm{Jup}}$)}, ylabel shift=-6pt},
  om/.style={only marks, mark=*, mark size=2.7pt, mark options={fill=orM, draw=black, line width=0.5pt}},
  gm/.style={only marks, mark=*, mark size=2.7pt, mark options={fill=grM, draw=black, line width=0.5pt}},
}
\tikzset{
  lN/.style={text=navy, font=\fontsize{9}{10}\selectfont, inner sep=0pt},
  lG/.style={text=gl, font=\fontsize{9}{10}\selectfont, inner sep=0pt},
  nm/.style={anchor=west, font=\fontsize{9}{10}\selectfont, inner sep=0pt, text=black!85},
}
\newcommand{\names}[2]{\node[nm] at (axis cs:0.48,-2.1) {#1};\node[nm] at (axis cs:0.48,-2.62) {(#2 Gyr)};}

\begin{document}
\begin{tikzpicture}
\useasboundingbox (0,0) rectangle (688pt,-859.5pt);
% ---------------- row 1
\begin{axis}[panel, ylab, at={(37.5pt,-6.75pt)}]
\regions{\dA}
\addplot[om] coordinates {(-1.21,-1.54) (-0.88,-1.70) (0.00,-1.18)};
\addplot[gm] coordinates {(-0.99,-2.03) (-0.48,-1.73)};
\node[lN] at (axis cs:-1.13,-1.24) {b};
\node[lN] at (axis cs:-0.78,-1.43) {c};
\node[lN] at (axis cs:0.12,-0.90) {d};
\node[lG] at (axis cs:-1.27,-2.35) {e?};
\node[lG] at (axis cs:-0.31,-2.04) {f?};
\names{GJ163}{3.0}
\end{axis}
\begin{axis}[panel, at={(187.25pt,-6.75pt)}]
\regions{\dB}
\addplot[om] coordinates {(-1.19,-1.63)};
\addplot[gm] coordinates {(-0.14,-1.20)};
\node[lN] at (axis cs:-1.07,-1.34) {b};
\node[lG] at (axis cs:-0.14,-0.90) {b?};
\names{GJ176}{2.3}
\end{axis}
\begin{axis}[panel, at={(337pt,-6.75pt)}]
\regions{\dC}
\addplot[om] coordinates {(-1.05,-1.69) (-0.52,-1.64)};
\addplot[gm] coordinates {(-0.90,-1.59)};
\node[lN] at (axis cs:-1.22,-1.37) {b};
\node[lG] at (axis cs:-0.78,-1.29) {c?};
\node[lN] at (axis cs:-0.39,-1.35) {d};
\names{GJ180}{5.0}
\end{axis}
\begin{axis}[panel, at={(486.75pt,-6.75pt)}]
\regions{\dD}
\addplot[om] coordinates {(-0.37,-0.79)};
\addplot[gm] coordinates {(-1.37,-1.58) (0.02,-1.03)};
\node[lG] at (axis cs:-1.38,-1.29) {b?};
\node[lN] at (axis cs:-0.26,-0.49) {c};
\node[lG] at (axis cs:0.02,-0.73) {d?};
\names{BD-061339}{2.9}
\end{axis}
% ---------------- row 2
\begin{axis}[panel, ylab, at={(37.5pt,-127.05pt)}]
\regions{\dE}
\addplot[only marks, mark=diamond*, mark size=4pt, mark options={fill=orM, draw=black, line width=0.5pt}] coordinates {(-0.46,-1.62)};
\addplot[om] coordinates {(-0.04,-1.50)};
\addplot[only marks, mark=diamond*, mark size=3.6pt, mark options={fill={rgb,255:red,255;green,215;blue,0}, draw=black, line width=0.5pt}] coordinates {(1.52,1.84)};
\node[lN] at (axis cs:-0.49,-1.28) {Ac};
\node[lN] at (axis cs:0.18,-1.20) {Ab};
\node[lN] at (axis cs:1.33,1.62) {B};
\names{GJ229}{1.6}
\end{axis}
\begin{axis}[panel, at={(187.25pt,-127.05pt)}]
\regions{\dF}
\addplot[om] coordinates {(-0.96,-1.50)};
\node[lN] at (axis cs:-0.85,-1.20) {b};
\names{GJ422}{5.5}
\end{axis}
\begin{axis}[panel, at={(337pt,-127.05pt)}]
\regions{\dG}
\addplot[om] coordinates {(-1.22,-1.72) (-0.76,-1.81)};
\addplot[gm] coordinates {(0.66,-1.04)};
\node[lN] at (axis cs:-1.10,-1.42) {b};
\node[lN] at (axis cs:-0.64,-1.50) {d};
\node[lG] at (axis cs:0.97,-1.07) {c?};
\names{GJ433}{0.5}
\end{axis}
\begin{axis}[panel, at={(486.75pt,-127.05pt)}]
\regions{\dH}
\addplot[om] coordinates {(-1.39,-1.32) (-1.13,-1.75) (-1.55,-2.27)};
\addplot[gm] coordinates {(-0.83,-2.00) (-0.61,-1.61) (-0.12,-1.65)};
\node[lN] at (axis cs:-1.26,-1.03) {b};
\node[lN] at (axis cs:-1.01,-1.46) {c};
\node[lN] at (axis cs:-1.43,-1.98) {e};
\node[lG] at (axis cs:-0.88,-1.78) {g?};
\node[lG] at (axis cs:-0.63,-1.34) {d?};
\node[lG] at (axis cs:-0.14,-1.37) {f?};
\names{GJ581}{10.0}
\end{axis}
% ---------------- row 3
\begin{axis}[panel, ylab, at={(37.5pt,-247.35pt)}]
\regions{\dI}
\addplot[om] coordinates {(-1.46,-2.40) (-1.07,-1.90)};
\addplot[gm] coordinates {(-0.68,-1.82)};
\node[lN] at (axis cs:-1.34,-2.12) {b};
\node[lN] at (axis cs:-0.97,-1.62) {c};
\node[lG] at (axis cs:-0.46,-1.52) {d?};
\names{Wolf1061}{7.1}
\end{axis}
\begin{axis}[panel, at={(187.25pt,-247.35pt)}]
\regions{\dJ}
\addplot[om] coordinates {(0.05,-0.50)};
\addplot[gm] coordinates {(-1.36,-1.56)};
\node[lN] at (axis cs:0.18,-0.20) {b};
\node[lG] at (axis cs:-1.10,-1.62) {c?};
\names{GJ649}{1.4}
\end{axis}
\begin{axis}[panel, at={(337pt,-247.35pt)}]
\regions{\dK}
\addplot[om] coordinates {(-1.32,-1.78) (-0.91,-1.87)};
\addplot[gm] coordinates {(-1.06,-2.47) (-0.82,-2.07) (-0.68,-2.07) (-0.57,-1.79) (-0.27,-1.79)};
\node[lN] at (axis cs:-1.19,-1.47) {b};
\node[lN] at (axis cs:-0.80,-1.60) {c};
\node[lG] at (axis cs:-1.19,-2.18) {h?};
\node[lG] at (axis cs:-0.80,-2.40) {f?};
\node[lG] at (axis cs:-0.52,-2.40) {e?};
\node[lG] at (axis cs:-0.45,-1.47) {d?};
\node[lG] at (axis cs:-0.06,-1.47) {g?};
\names{GJ667C}{6.3}
\end{axis}
\begin{axis}[panel, at={(486.75pt,-247.35pt)}]
\regions{\dL}
\addplot[om] coordinates {(-1.41,-1.45)};
\node[lN] at (axis cs:-1.29,-1.16) {b};
\names{GJ674}{2.0}
\end{axis}
% ---------------- row 4
\begin{axis}[panel, ylab, at={(37.5pt,-367.65pt)}]
\regions{\dM}
\addplot[gm] coordinates {(-1.09,-1.86) (-0.74,-1.56)};
\node[lG] at (axis cs:-1.06,-2.28) {b?};
\node[lG] at (axis cs:-0.71,-1.96) {c?};
\names{GJ682}{5.0}
\end{axis}
\begin{axis}[panel, at={(187.25pt,-367.65pt)}]
\regions{\dN}
\addplot[om] coordinates {(0.57,-0.12)};
\addplot[gm] coordinates {(-0.80,-1.78)};
\node[lN] at (axis cs:0.69,0.16) {b};
\node[lG] at (axis cs:-0.59,-1.90) {c?};
\names{GJ832}{2.4}
\end{axis}
\begin{axis}[panel, at={(337pt,-367.65pt)}]
\regions{\dO}
\addplot[om] coordinates {(-1.54,-2.10) (-1.06,-1.70)};
\node[lN] at (axis cs:-1.42,-1.82) {b};
\node[lN] at (axis cs:-0.95,-1.40) {c};
\names{GJ3998}{2.0}
\end{axis}
\begin{axis}[panel, at={(486.75pt,-367.65pt)}]
\regions{\dP}
\addplot[om] coordinates {(-0.54,-0.70)};
\node[lN] at (axis cs:-0.32,-0.38) {Ab};
\names{HD3651}{7.5}
\end{axis}
% ---------------- row 5
\begin{axis}[panel, ylab, at={(37.5pt,-487.95pt)}]
\regions{\dQ}
\addplot[om] coordinates {(-0.90,-2.04) (-0.44,-1.95) (-0.30,-1.83)};
\addplot[gm] coordinates {(-1.02,-2.50) (-0.64,-2.10) (-0.06,-1.48)};
\node[lG] at (axis cs:-1.19,-2.22) {g?};
\node[lN] at (axis cs:-0.93,-1.74) {b};
\node[lG] at (axis cs:-0.62,-1.76) {c?};
\node[lN] at (axis cs:-0.34,-2.22) {d};
\node[lN] at (axis cs:-0.17,-2.10) {e};
\node[lG] at (axis cs:0.09,-1.22) {f?};
\names{HD20794}{6.0}
\end{axis}
\begin{axis}[panel, at={(187.25pt,-487.95pt)}]
\regions{\dR}
\addplot[om] coordinates {(-0.20,-1.42)};
\addplot[gm] coordinates {(0.00,-1.00)};
\node[lN] at (axis cs:-0.21,-1.82) {b};
\node[lG] at (axis cs:0.12,-1.42) {b?};
\names{HD38858}{4.3}
\end{axis}
\begin{axis}[panel, at={(337pt,-487.95pt)}]
\regions{\dS}
\addplot[om] coordinates {(-1.33,-1.91) (-1.11,-1.69) (-0.89,-1.55) (-0.61,-1.95)};
\addplot[gm] coordinates {(-0.73,-1.95) (-0.23,-1.65)};
\node[lN] at (axis cs:-1.54,-1.95) {b};
\node[lN] at (axis cs:-1.02,-1.39) {c};
\node[lN] at (axis cs:-0.95,-1.25) {d};
\node[lG] at (axis cs:-0.77,-1.69) {e?};
\node[lN] at (axis cs:-0.52,-1.65) {f};
\node[lG] at (axis cs:-0.06,-1.37) {g?};
\names{HD40307}{4.4}
\end{axis}
\begin{axis}[panel, at={(486.75pt,-487.95pt)}]
\regions{\dT}
\addplot[om] coordinates {(-1.10,-1.49) (-0.73,-1.42) (-0.20,-1.23)};
\node[lN] at (axis cs:-0.99,-1.20) {b};
\node[lN] at (axis cs:-0.61,-1.13) {c};
\node[lN] at (axis cs:-0.08,-0.93) {d};
\names{HD69830}{6.6}
\end{axis}
% ---------------- row 6
\begin{axis}[panel, ylab, at={(37.5pt,-608.25pt)}]
\regions{\dU}
\addplot[om] coordinates {(-0.60,-1.94)};
\node[lN] at (axis cs:-0.45,-1.67) {b};
\names{HD85512}{5.0}
\end{axis}
\begin{axis}[panel, at={(187.25pt,-608.25pt)}]
\regions{\dV}
\addplot[om] coordinates {(-0.95,-0.94)};
\addplot[gm] coordinates {(0.72,-0.45)};
\node[lN] at (axis cs:-0.81,-0.65) {b};
\node[lG] at (axis cs:0.72,-0.13) {c?};
\names{HD99492}{5.7}
\end{axis}
\begin{axis}[panel, at={(337pt,-608.25pt)}]
\regions{\dW}
\addplot[gm] coordinates {(-0.34,-1.29)};
\node[lG] at (axis cs:-0.36,-1.00) {b?};
\names{HD102365}{4.3}
\end{axis}
\begin{axis}[panel, at={(486.75pt,-608.25pt)}]
\regions{\dX}
\addplot[om] coordinates {(-1.32,-1.80) (-0.67,-1.25)};
\addplot[gm] coordinates {(-0.34,-1.14)};
\node[lN] at (axis cs:-1.20,-1.51) {b};
\node[lN] at (axis cs:-0.58,-0.95) {c};
\node[lG] at (axis cs:-0.06,-0.85) {d?};
\names{61Vir}{5.1}
\end{axis}
% ---------------- row 7
\begin{axis}[panel, ylab, xlab, at={(37.5pt,-728.55pt)}]
\regions{\dY}
\addplot[om] coordinates {(-1.03,-1.84) (-0.78,-1.46) (-0.38,-1.54)};
\node[lN] at (axis cs:-0.82,-2.04) {b};
\node[lN] at (axis cs:-0.67,-1.16) {c};
\node[lN] at (axis cs:-0.26,-1.26) {d};
\names{HD136352}{8.2}
\end{axis}
\begin{axis}[panel, xlab, at={(187.25pt,-728.55pt)}]
\regions{\dZ}
\addplot[om] coordinates {(-0.87,-1.67)};
\node[lN] at (axis cs:-0.75,-1.40) {b};
\names{HD154088}{7.1}
\end{axis}
\begin{axis}[panel, xlab, at={(337pt,-728.55pt)}]
\regions{\dAA}
\addplot[om] coordinates {(-0.95,-1.56) (-0.70,-1.66)};
\node[lN] at (axis cs:-0.84,-1.28) {b};
\node[lN] at (axis cs:-0.59,-1.40) {c};
\names{HD189567}{4.5}
\end{axis}
% ---------------- colour bar
\begin{axis}[at={(633pt,-6.6pt)}, anchor=north west, width=9.5pt, height=835pt, scale only axis,
  xmin=0, xmax=1, ymin=0, ymax=5, xtick=\empty, ytick={0,1,2,3,4,5},
  yticklabels={0\%,10\%,50\%,68\%,90\%,100\%}, yticklabel pos=right,
  ylabel={detection probability (\%)}, ylabel near ticks,
  tick label style={font=\fontsize{9.5}{11}\selectfont},
  label style={font=\fontsize{9.7}{11}\selectfont},
  axis on top, tick align=inside, major tick length=3pt,
  every tick/.style={black, line width=0.6pt}, axis line style={line width=0.8pt}]
\addplot[fill=cA,draw=none] coordinates {(0,1) (1,1) (1,2) (0,2)} -- cycle;
\addplot[fill=cB,draw=none] coordinates {(0,2) (1,2) (1,3) (0,3)} -- cycle;
\addplot[fill=cC,draw=none] coordinates {(0,3) (1,3) (1,4) (0,4)} -- cycle;
\addplot[fill=cD,draw=none] coordinates {(0,4) (1,4) (1,5) (0,5)} -- cycle;
\end{axis}
\end{tikzpicture}
\end{document}
